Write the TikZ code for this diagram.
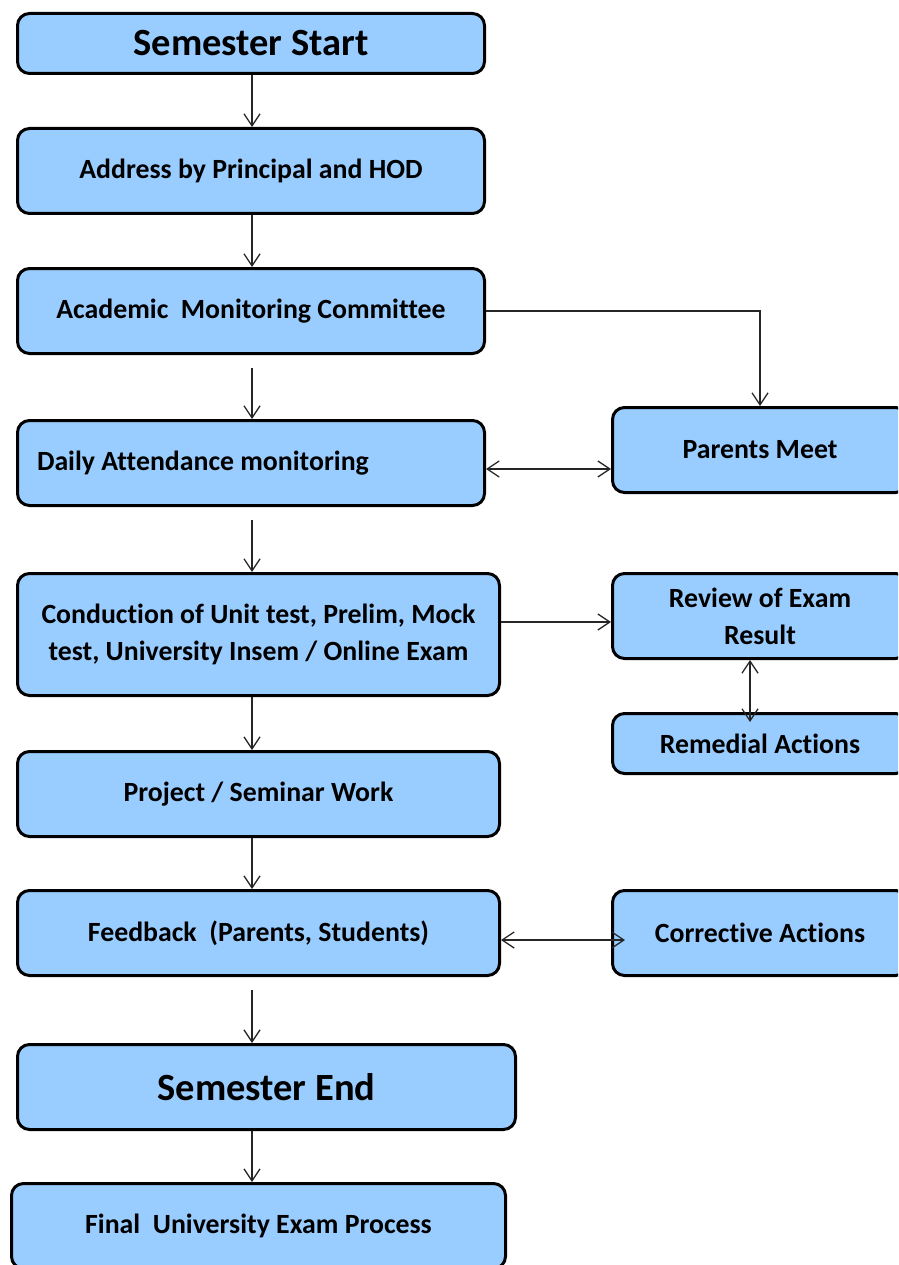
\documentclass[tikz,border=0pt]{standalone}
\usepackage{fontspec}
\setmainfont{Carlito}[Ligatures=NoCommon]
\usetikzlibrary{arrows.meta}
\definecolor{boxblue}{RGB}{153,204,255}
\begin{document}
\begin{tikzpicture}[x=1pt,y=-1pt,
  box/.style={draw=black, line width=3pt, rounded corners=12pt, fill=boxblue,
    align=center, font=\bfseries\fontsize{27.8}{37}\selectfont, inner sep=0pt},
  big/.style={font=\bfseries\fontsize{38.5}{44}\selectfont},
  tipx/.tip={Straight Barb[length=12pt,width=16pt,line width=1.3pt]},
  arr/.style={draw=black!85, line width=1.3pt, -tipx},
  darr/.style={draw=black!85, line width=1.3pt, tipx-tipx}]
\useasboundingbox (0,0) rectangle (898,1265);
\clip (0,0) rectangle (898,1265);

\node[box, big, minimum width=467pt, minimum height=60pt] (start) at (251,43.5) {Semester Start};
\node[box, minimum width=467pt, minimum height=85pt] (addr) at (251,171) {Address by Principal and HOD};
\node[box, minimum width=467pt, minimum height=85pt] (acad) at (251,311) {Academic\ \ Monitoring Committee};
\node[box, minimum width=467pt, minimum height=85pt, align=flush left, text width=428pt] (daily) at (251,463) {Daily Attendance monitoring};
\node[box, minimum width=295pt, minimum height=85pt] (parents) at (760,450) {Parents Meet};
\node[box, minimum width=482pt, minimum height=122pt] (cond) at (258.5,634.5) {Conduction of Unit test, Prelim, Mock\\test, University Insem / Online Exam};
\node[box, minimum width=295pt, minimum height=85pt] (review) at (760,616) {Review of Exam\\Result};
\node[box, minimum width=295pt, minimum height=60pt] (remedial) at (760,743.5) {Remedial Actions};
\node[box, minimum width=482pt, minimum height=85pt] (proj) at (258.5,794) {Project / Seminar Work};
\node[box, minimum width=482pt, minimum height=85pt] (fb) at (258.5,933) {Feedback\ \ (Parents, Students)};
\node[box, minimum width=295pt, minimum height=85pt] (corr) at (760,933) {Corrective Actions};
\node[box, big, minimum width=498pt, minimum height=85pt] (send) at (266.5,1087) {Semester End};
\node[box, minimum width=494pt, minimum height=85pt] (final) at (258.5,1226) {Final\ \ University Exam Process};

\coordinate (xa) at (252,0);
\coordinate (xr) at (750,0);
\coordinate (y469) at (0,469);
\coordinate (y622) at (0,622);
\coordinate (y940) at (0,940);
\coordinate (acadout) at (252,368);
\coordinate (dailyout) at (252,520);
\coordinate (fbout) at (252,990);
\coordinate (remtip) at (750,722);
\coordinate (corrtip) at (625,940);

\draw[arr] (start.south -| xa) -- (addr.north -| xa);
\draw[arr] (addr.south -| xa) -- (acad.north -| xa);
\draw[arr] (acadout) -- (daily.north -| xa);
\draw[arr] (acad.east) -| (parents.north);
\draw[darr] (daily.east |- y469) -- (parents.west |- y469);
\draw[arr] (dailyout) -- (cond.north -| xa);
\draw[arr] (cond.east |- y622) -- (review.west |- y622);
\draw[darr] (review.south -| xr) -- (remtip);
\draw[arr] (cond.south -| xa) -- (proj.north -| xa);
\draw[arr] (proj.south -| xa) -- (fb.north -| xa);
\draw[darr] (fb.east |- y940) -- (corrtip);
\draw[arr] (fbout) -- (send.north -| xa);
\draw[arr] (send.south -| xa) -- (final.north -| xa);
\end{tikzpicture}
\end{document}
